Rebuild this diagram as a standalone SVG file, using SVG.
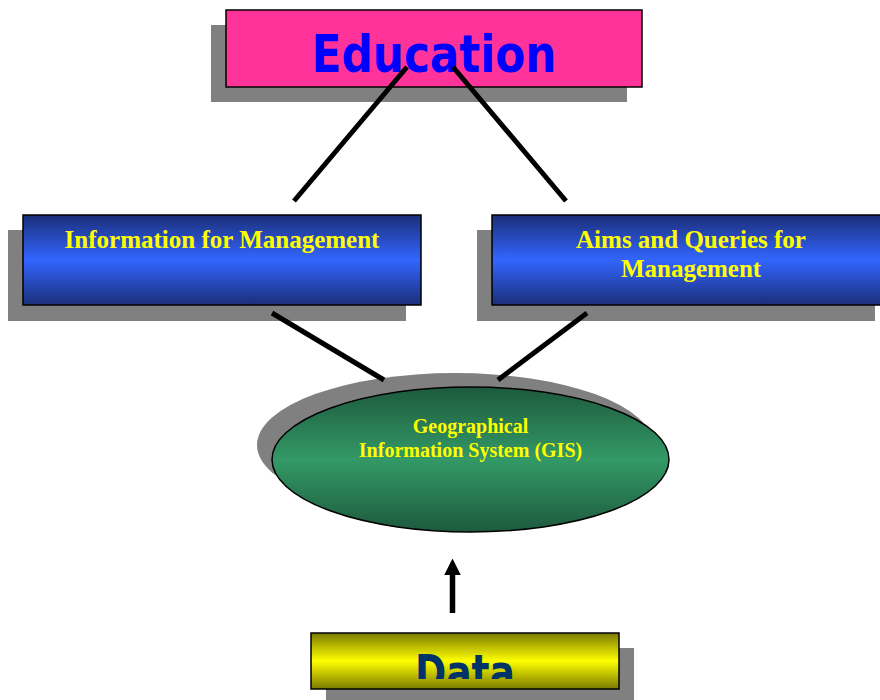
<svg xmlns="http://www.w3.org/2000/svg" width="880" height="700" viewBox="0 0 880 700">
  <style>
    .shadow { fill: #808080; }
    .edge { stroke: #000; stroke-width: 5; fill: none; }
    .box { stroke: #000; stroke-width: 1.5; }
    .serif { font-family: "Liberation Serif", "Times New Roman", serif; font-weight: bold; fill: #FFFF00; text-anchor: middle; }
  </style>
  <defs>
    <linearGradient id="blueBar" x1="0" y1="0" x2="0" y2="1">
      <stop offset="0" stop-color="#1B2E78"/>
      <stop offset="0.5" stop-color="#3366FF"/>
      <stop offset="1" stop-color="#1B2E78"/>
    </linearGradient>
    <linearGradient id="greenBar" x1="0" y1="0" x2="0" y2="1">
      <stop offset="0" stop-color="#1D5A3E"/>
      <stop offset="0.5" stop-color="#339966"/>
      <stop offset="1" stop-color="#1D5A3E"/>
    </linearGradient>
    <linearGradient id="yellowBar" x1="0" y1="0" x2="0" y2="1">
      <stop offset="0" stop-color="#7A7A00"/>
      <stop offset="0.5" stop-color="#FFFF00"/>
      <stop offset="1" stop-color="#7A7A00"/>
    </linearGradient>
    <clipPath id="dataClip">
      <rect x="311" y="634" width="308" height="45"/>
    </clipPath>
    <marker id="arrowHead" viewBox="0 0 10 10" refX="0" refY="5" markerWidth="3" markerHeight="3" orient="auto" markerUnits="strokeWidth">
      <path d="M0,0 L10,5 L0,10 Z" fill="#000"/>
    </marker>
  </defs>

  <g id="education">
    <rect class="shadow" x="211" y="25" width="416" height="77"/>
    <rect class="box" x="226" y="10" width="416" height="77" fill="#FF3399"/>
    <text x="434" y="72" font-family="'DejaVu Sans', Verdana, sans-serif" font-weight="bold" font-size="52" fill="#0000FF" text-anchor="middle" textLength="245" lengthAdjust="spacingAndGlyphs">Education</text>
  </g>

  <g id="info-management">
    <rect class="shadow" x="8" y="230" width="398" height="91"/>
    <rect class="box" x="23" y="215" width="398" height="90" fill="url(#blueBar)"/>
    <text class="serif" x="222" y="248" font-size="25">Information for Management</text>
  </g>

  <g id="aims-queries">
    <rect class="shadow" x="477" y="230" width="398" height="91"/>
    <rect class="box" x="492" y="215" width="400" height="90" fill="url(#blueBar)"/>
    <text class="serif" x="691" y="248" font-size="25">Aims and Queries for</text>
    <text class="serif" x="691" y="277" font-size="25">Management</text>
  </g>

  <g id="gis">
    <ellipse class="shadow" cx="455" cy="445" rx="198" ry="72"/>
    <ellipse class="box" cx="470.5" cy="459.5" rx="198.5" ry="72.5" fill="url(#greenBar)"/>
    <text class="serif" x="470.5" y="433" font-size="20">Geographical</text>
    <text class="serif" x="470.5" y="457" font-size="20">Information System (GIS)</text>
  </g>

  <g id="data">
    <rect class="shadow" x="326" y="648" width="308" height="52"/>
    <rect class="box" x="311" y="633" width="308" height="56" fill="url(#yellowBar)"/>
    <!-- label sits low in its bar; the lower part is cut off by the clip -->
    <text x="465" y="690" clip-path="url(#dataClip)" font-family="'DejaVu Sans', Verdana, sans-serif" font-weight="bold" font-size="50" fill="#003366" text-anchor="middle" textLength="100" lengthAdjust="spacingAndGlyphs">Data</text>
  </g>

  <g id="connectors">
    <line class="edge" x1="407" y1="67" x2="294" y2="201"/>
    <line class="edge" x1="453" y1="67" x2="566" y2="201"/>
    <line class="edge" x1="272" y1="313" x2="384" y2="380"/>
    <line class="edge" x1="587" y1="313" x2="498" y2="380"/>
    <line x1="452.5" y1="613" x2="452.5" y2="575" stroke="#000" stroke-width="5.5" marker-end="url(#arrowHead)"/>
  </g>
</svg>
